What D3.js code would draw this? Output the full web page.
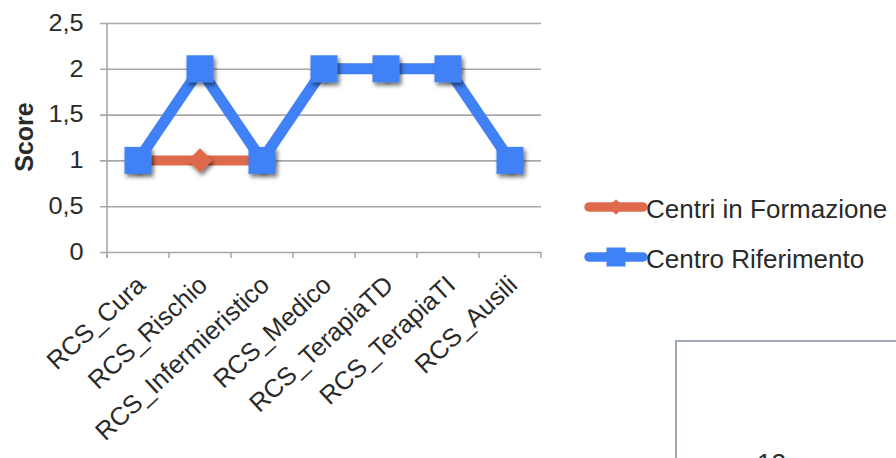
<!DOCTYPE html>
<html>
<head>
<meta charset="utf-8">
<script src="https://cdn.jsdelivr.net/npm/d3@7"></script>
<style>
  html, body { margin: 0; padding: 0; background: #fff; }
  svg { display: block; font-family: "Liberation Sans", Arial, sans-serif; }
</style>
</head>
<body>
<svg id="chart" width="896" height="458"></svg>
<script>
// Categories and series values
const categories = ["RCS_Cura", "RCS_Rischio", "RCS_Infermieristico", "RCS_Medico", "RCS_TerapiaTD", "RCS_TerapiaTI", "RCS_Ausili"];
const centriFormazione = [1, 1, 1, 2, 2, 2, 1];
const centroRiferimento = [1, 2, 1, 2, 2, 2, 1];
const seriesNames = ["Centri in Formazione", "Centro Riferimento"];
const yTicks = [0, 0.5, 1, 1.5, 2, 2.5];
const yTitle = "Score";
const pageNumber = "12";

const svg = d3.select("#chart");
const textColor = "#2a2a2a";
const gridColor = "#a8a8a8";
const orange = "#df6a4b";
const blue = "#4181f6";

// Marker drop shadow
const defs = svg.append("defs");
const f = defs.append("filter").attr("id", "shadow")
  .attr("x", "-50%").attr("y", "-50%").attr("width", "200%").attr("height", "200%");
f.append("feDropShadow").attr("dx", 2).attr("dy", 3).attr("stdDeviation", 2)
  .attr("flood-color", "#000").attr("flood-opacity", 0.55);

const x = d3.scaleBand().domain(categories).range([107, 541]).padding(0);
const y = d3.scaleLinear().domain([0, 2.5]).range([252, 23]);
const fmt = v => String(v).replace(".", ",");

// Horizontal gridlines with y tick labels
const yAxis = d3.axisLeft(y).tickValues(yTicks).tickFormat(fmt)
  .tickSize(-(541 - 107)).tickSizeOuter(0).tickPadding(22);
const gy = svg.append("g").attr("transform", "translate(107,0)").call(yAxis);
gy.select(".domain").remove();
gy.selectAll(".tick line").attr("x1", -7).attr("stroke", gridColor).attr("stroke-width", 1.6);
gy.selectAll(".tick text").attr("fill", textColor).attr("font-size", 23)
  .attr("transform", "translate(-8,0) scale(1.1,1) translate(8,0)");

// Vertical axis line
svg.append("line").attr("x1", 107).attr("x2", 107).attr("y1", y(2.5)).attr("y2", 258)
  .attr("stroke", gridColor).attr("stroke-width", 1.6);

// Category axis with boundary ticks
const bounds = categories.map(c => x(c)).concat([x.range()[1]]);
svg.append("g").selectAll("line").data(bounds).join("line")
  .attr("x1", d => d).attr("x2", d => d).attr("y1", y(0)).attr("y2", 258)
  .attr("stroke", gridColor).attr("stroke-width", 1.6);

svg.append("g").selectAll("text").data(categories).join("text")
  .attr("transform", d => `translate(${x(d) + x.bandwidth() / 2 + 9},${287}) rotate(-43)`)
  .attr("text-anchor", "end")
  .attr("font-size", 25.5).attr("fill", textColor).text(d => d);

// Axis title
svg.append("text").attr("transform", "translate(33,137) rotate(-90)")
  .attr("text-anchor", "middle").attr("font-size", 25).attr("font-weight", "bold")
  .attr("fill", textColor).text(yTitle);

const cx = d => x(d) + x.bandwidth() / 2;
const line = d3.line().x((d, i) => cx(categories[i])).y(d => y(d));

// Series: Centri in Formazione (orange, diamonds)
svg.append("path").datum(centriFormazione).attr("d", line)
  .attr("fill", "none").attr("stroke", orange).attr("stroke-width", 10);
svg.append("g").selectAll("path").data(centriFormazione).join("path")
  .attr("d", d3.symbol(d3.symbolDiamond2, 380))
  .attr("transform", (d, i) => `translate(${cx(categories[i])},${y(d)})`)
  .attr("fill", orange).attr("filter", "url(#shadow)");

// Series: Centro Riferimento (blue, squares)
svg.append("path").datum(centroRiferimento).attr("d", line)
  .attr("fill", "none").attr("stroke", blue).attr("stroke-width", 11)
  .attr("stroke-linejoin", "miter");
const sq = 27;
svg.append("g").selectAll("rect").data(centroRiferimento).join("rect")
  .attr("x", (d, i) => cx(categories[i]) - sq / 2).attr("y", d => y(d) - sq / 2)
  .attr("width", sq).attr("height", sq)
  .attr("fill", blue).attr("filter", "url(#shadow)");

// Legend
const legend = svg.append("g");
const legendY = [207, 257];
const colors = [orange, blue];
seriesNames.forEach((name, i) => {
  const g = legend.append("g").attr("transform", `translate(0,${legendY[i]})`);
  g.append("line").attr("x1", 589).attr("x2", 643).attr("y1", 0).attr("y2", 0)
    .attr("stroke", colors[i]).attr("stroke-width", 9.5).attr("stroke-linecap", "round");
  if (i === 0) {
    g.append("path").attr("d", d3.symbol(d3.symbolDiamond2, 150))
      .attr("transform", "translate(616,0)").attr("fill", orange);
  } else {
    g.append("rect").attr("x", 606.5).attr("y", -9.5).attr("width", 19).attr("height", 19).attr("fill", blue);
  }
  g.append("text").attr("x", 646).attr("y", 2).attr("dy", "0.36em")
    .attr("font-size", 26).attr("fill", textColor).text(name);
});

// Framed panel at the lower right
svg.append("rect").attr("x", 676).attr("y", 341).attr("width", 300).attr("height", 200)
  .attr("fill", "#fff").attr("stroke", "#9ea9ba").attr("stroke-width", 2);
svg.append("text").attr("x", 757).attr("y", 472).attr("font-size", 26)
  .attr("fill", textColor).text(pageNumber);
</script>
</body>
</html>
